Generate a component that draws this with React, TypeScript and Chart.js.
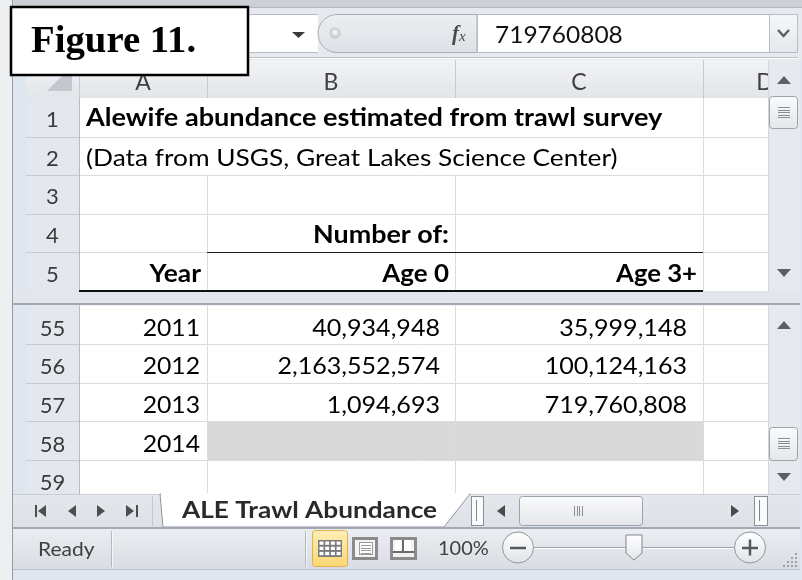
import React, { useEffect, useRef } from "react";
import { Chart, registerables } from "chart.js";

Chart.register(...registerables);

// ---------- content (data) ----------
const figureLabel = "Figure 11.";
const columnLetters = ["A", "B", "C", "D"];
const topRowNumbers = ["1", "2", "3", "4", "5"];
const bottomRowNumbers = ["55", "56", "57", "58", "59"];
const titleText = "Alewife abundance estimated from trawl survey";
const sourceText = "(Data from USGS, Great Lakes Science Center)";
const groupHeader = "Number of:";
const columnHeaders = ["Year", "Age 0", "Age 3+"];
const years = [2011, 2012, 2013, 2014];
const age0: (number | null)[] = [40934948, 2163552574, 1094693, null];
const age3Plus: (number | null)[] = [35999148, 100124163, 719760808, null];
const sheetName = "ALE Trawl Abundance";
const statusText = "Ready";
const zoomText = "100%";
const selectedValue = String(age3Plus[2]);

// ---------- layout (pixel-unit scale space) ----------
const W = 802;
const H = 580;
const colEdges = [26, 79, 207, 455, 703, 768];
const headerTop = 60;
const headerBottom = 98;
const upperStart = 98;
const upperRowH = 38.6;
const lowerStart = 305.5;
const lowerRowH = 38.65;
const paneBottom = 494;

const FONT = "Lato, 'Open Sans', sans-serif";

const fmt = (n: number) => String(n).replace(/\B(?=(\d{3})+(?!\d))/g, ",");

const sheetPlugin = {
  id: "sheetPlugin",
  afterDraw(chart: any) {
    const ctx: CanvasRenderingContext2D = chart.ctx;
    const xs = chart.scales.x;
    const ys = chart.scales.y;
    const X = (v: number) => xs.getPixelForValue(v);
    const Y = (v: number) => ys.getPixelForValue(v);

    const rect = (x0: number, y0: number, x1: number, y1: number, fill: any) => {
      ctx.fillStyle = fill;
      ctx.fillRect(X(x0), Y(y0), X(x1) - X(x0), Y(y1) - Y(y0));
    };
    const vgrad = (y0: number, y1: number, c0: string, c1: string) => {
      const g = ctx.createLinearGradient(0, Y(y0), 0, Y(y1));
      g.addColorStop(0, c0);
      g.addColorStop(1, c1);
      return g;
    };
    const hline = (x0: number, x1: number, y: number, color: string, w = 1) => {
      ctx.strokeStyle = color;
      ctx.lineWidth = w;
      const yy = w % 2 === 1 ? Math.round(Y(y)) + 0.5 : Math.round(Y(y));
      ctx.beginPath();
      ctx.moveTo(X(x0), yy);
      ctx.lineTo(X(x1), yy);
      ctx.stroke();
    };
    const vline = (x: number, y0: number, y1: number, color: string, w = 1) => {
      ctx.strokeStyle = color;
      ctx.lineWidth = w;
      const xx = w % 2 === 1 ? Math.round(X(x)) + 0.5 : Math.round(X(x));
      ctx.beginPath();
      ctx.moveTo(xx, Y(y0));
      ctx.lineTo(xx, Y(y1));
      ctx.stroke();
    };
    const text = (
      s: string,
      x: number,
      y: number,
      font: string,
      color: string,
      align: CanvasTextAlign = "left",
      sx = 1
    ) => {
      ctx.save();
      ctx.font = font;
      ctx.fillStyle = color;
      ctx.textAlign = align;
      ctx.textBaseline = "alphabetic";
      ctx.translate(X(x), Y(y));
      ctx.scale(sx, 1);
      ctx.fillText(s, 0, 0);
      ctx.restore();
    };
    const poly = (pts: number[][], fill: any, stroke?: string, w = 1) => {
      ctx.beginPath();
      pts.forEach((p, i) => (i ? ctx.lineTo(X(p[0]), Y(p[1])) : ctx.moveTo(X(p[0]), Y(p[1]))));
      ctx.closePath();
      if (fill) {
        ctx.fillStyle = fill;
        ctx.fill();
      }
      if (stroke) {
        ctx.strokeStyle = stroke;
        ctx.lineWidth = w;
        ctx.stroke();
      }
    };
    const rrect = (x0: number, y0: number, x1: number, y1: number, r: number, fill: any, stroke?: string) => {
      ctx.beginPath();
      ctx.roundRect(X(x0) + 0.5, Y(y0) + 0.5, X(x1) - X(x0), Y(y1) - Y(y0), r);
      if (fill) {
        ctx.fillStyle = fill;
        ctx.fill();
      }
      if (stroke) {
        ctx.strokeStyle = stroke;
        ctx.lineWidth = 1;
        ctx.stroke();
      }
    };
    const circle = (cx: number, cy: number, r: number, fill: any, stroke?: string) => {
      ctx.beginPath();
      ctx.arc(X(cx), Y(cy), X(cx + r) - X(cx), 0, Math.PI * 2);
      if (fill) {
        ctx.fillStyle = fill;
        ctx.fill();
      }
      if (stroke) {
        ctx.strokeStyle = stroke;
        ctx.lineWidth = 1;
        ctx.stroke();
      }
    };

    ctx.save();

    // ----- window background -----
    rect(0, 0, W, H, "#dfe6ef");
    rect(0, 0, 12, H, "#eeeff1");
    rect(12, 0, W, 7, "#cdd1d7");
    hline(12, W, 7, "#b3b8be");
    rect(12, 8, W, 60, "#e6e9ed");
    vline(12, 0, H, "#979da5");

    // ----- formula bar -----
    rect(13, 14, 318, 53, "#ffffff");
    hline(13, 318, 14, "#b7bdc6");
    hline(13, 318, 52, "#b7bdc6");
    poly([[292, 32], [305, 32], [298.5, 38]], "#3a3a3a");
    ctx.beginPath();
    ctx.moveTo(X(477), Y(14.5));
    ctx.lineTo(X(337), Y(14.5));
    ctx.arc(X(337), Y(33.5), Y(33.5) - Y(14.5), -Math.PI / 2, Math.PI / 2, true);
    ctx.lineTo(X(477), Y(52.5));
    ctx.closePath();
    ctx.fillStyle = vgrad(14, 53, "#eceef1", "#dde1e6");
    ctx.fill();
    ctx.strokeStyle = "#a9b0b9";
    ctx.lineWidth = 1;
    ctx.stroke();
    const dot = ctx.createRadialGradient(X(335), Y(32), 1, X(335), Y(33), 6);
    dot.addColorStop(0, "#f4f4f4");
    dot.addColorStop(1, "#b9bcc0");
    circle(335, 33, 5.5, dot);
    text("f", 452, 40, `italic bold 21px 'Liberation Serif', serif`, "#4a4a4a");
    text("x", 459, 41, `italic 15px 'Liberation Serif', serif`, "#4a4a4a");
    rect(477, 14, 769, 53, "#ffffff");
    ctx.strokeStyle = "#b7bdc6";
    ctx.lineWidth = 1;
    ctx.strokeRect(X(477) + 0.5, Y(14) + 0.5, X(769) - X(477), Y(53) - Y(14) - 1);
    text(selectedValue, 495, 43, `24px ${FONT}`, "#111", "left", 1.02);
    rect(769, 14, 798, 53, vgrad(14, 53, "#f6f7f9", "#e4e7eb"));
    ctx.strokeStyle = "#b7bdc6";
    ctx.strokeRect(X(769) + 0.5, Y(14) + 0.5, X(798) - X(769) - 1, Y(53) - Y(14) - 1);
    ctx.beginPath();
    ctx.moveTo(X(778), Y(30));
    ctx.lineTo(X(783.5), Y(36));
    ctx.lineTo(X(789), Y(30));
    ctx.strokeStyle = "#5d6166";
    ctx.lineWidth = 2.5;
    ctx.stroke();
    hline(13, 798, 57, "#b9bec5");
    hline(13, 798, 58, "#ffffff");

    // ----- column header row -----
    rect(colEdges[0], headerTop, colEdges[5], headerBottom, vgrad(headerTop, headerBottom, "#f2f3f5", "#e2e5e9"));
    hline(colEdges[0], colEdges[5], headerBottom - 0.5, "#b9bec6");
    for (let i = 1; i < 5; i++) vline(colEdges[i], headerTop, headerBottom, "#c6cbd2");
    poly([[47, 91], [72, 91], [72, 66]], "#c3c8cf");
    ctx.save();
    ctx.beginPath();
    ctx.rect(X(colEdges[1]), Y(headerTop), X(colEdges[5]) - X(colEdges[1]), Y(headerBottom) - Y(headerTop));
    ctx.clip();
    columnLetters.forEach((c, i) => {
      const cx = i < 3 ? (colEdges[i + 1] + colEdges[i + 2]) / 2 : colEdges[4] + 62;
      text(c, cx, 90, `23px ${FONT}`, "#3f3f3f", "center");
    });
    ctx.restore();

    // ----- upper pane -----
    rect(colEdges[0], upperStart, colEdges[1], upperStart + 5 * upperRowH, "#e4e8ee");
    rect(colEdges[1], upperStart, colEdges[5], upperStart + 5 * upperRowH, "#ffffff");
    topRowNumbers.forEach((n, i) => {
      const bottom = upperStart + (i + 1) * upperRowH;
      if (i < 4) {
        hline(colEdges[1], colEdges[5], bottom, "#dadcdd");
        hline(colEdges[0], colEdges[1], bottom, "#c6cbd2");
      }
      text(n, (colEdges[0] + colEdges[1]) / 2, bottom - 9.5, `22px ${FONT}`, "#3a3a3a", "center");
    });
    vline(colEdges[2], upperStart + 2 * upperRowH, upperStart + 5 * upperRowH, "#dadcdd");
    vline(colEdges[3], upperStart + 2 * upperRowH, upperStart + 5 * upperRowH, "#dadcdd");
    vline(colEdges[4], upperStart, upperStart + 5 * upperRowH, "#dadcdd");
    const rowBase = (i: number) => upperStart + (i + 1) * upperRowH - 9.5;
    text(titleText, colEdges[1] + 7, rowBase(0) - 1, `bold 24px ${FONT}`, "#000", "left", 1.13);
    text(sourceText, colEdges[1] + 7, rowBase(1), `24px ${FONT}`, "#000", "left", 1.095);
    text(groupHeader, colEdges[3] - 6, rowBase(3), `bold 24px ${FONT}`, "#000", "right", 1.12);
    text(columnHeaders[0], colEdges[2] - 6, rowBase(4), `bold 24px ${FONT}`, "#000", "right", 1.1);
    text(columnHeaders[1], colEdges[3] - 6, rowBase(4), `bold 24px ${FONT}`, "#000", "right", 1.08);
    text(columnHeaders[2], colEdges[4] - 6, rowBase(4), `bold 24px ${FONT}`, "#000", "right", 1.07);
    hline(colEdges[2], colEdges[4], upperStart + 4 * upperRowH, "#1a1a1a", 1);
    vline(colEdges[1], upperStart, paneBottom, "#b6bcc4");

    // ----- split bar -----
    rect(13, 292, 800, lowerStart, "#e3e7ec");
    hline(colEdges[1], colEdges[4], upperStart + 5 * upperRowH, "#111111", 2);
    hline(13, 800, 304, "#a3a9b1", 2);

    // ----- lower pane -----
    rect(colEdges[0], lowerStart, colEdges[1], paneBottom, "#e4e8ee");
    rect(colEdges[1], lowerStart, colEdges[5], paneBottom, "#ffffff");
    rect(colEdges[2], lowerStart + 3 * lowerRowH, colEdges[4], lowerStart + 4 * lowerRowH, "#d9d9d9");
    bottomRowNumbers.forEach((n, i) => {
      const bottom = lowerStart + (i + 1) * lowerRowH;
      hline(colEdges[1], colEdges[5], bottom, "#dadcdd");
      hline(colEdges[0], colEdges[1], bottom, "#c6cbd2");
      text(n, (colEdges[0] + colEdges[1]) / 2, bottom - 8.5, `22px ${FONT}`, "#3a3a3a", "center");
    });
    for (let i = 2; i <= 4; i++) vline(colEdges[i], lowerStart, paneBottom, "#dadcdd");
    vline(colEdges[1], lowerStart, paneBottom, "#b6bcc4");
    years.forEach((yv, i) => {
      const base = lowerStart + (i + 1) * lowerRowH - 8.5;
      text(String(yv), colEdges[2] - 7, base, `24px ${FONT}`, "#000", "right", 1.03);
      const a0 = age0[i];
      const a3 = age3Plus[i];
      if (a0 !== null) text(fmt(a0), colEdges[3] - 15, base, `24px ${FONT}`, "#000", "right", 1.045);
      if (a3 !== null) text(fmt(a3), colEdges[4] - 16, base, `24px ${FONT}`, "#000", "right", 1.045);
    });

    // ----- vertical scrollbars -----
    const vScroll = (y0: number, y1: number, upY: number, thumb0: number, thumb1: number, downY: number) => {
      rect(colEdges[5], y0, 800, y1, "#e6e9ee");
      vline(colEdges[5], y0, y1, "#d3d7dd");
      poly([[777, upY + 4], [791, upY + 4], [784, upY - 4]], "#5b6068");
      poly([[777, downY - 4], [791, downY - 4], [784, downY + 4]], "#5b6068");
      rrect(769, thumb0, 797, thumb1, 3, vgrad(thumb0, thumb1, "#fbfbfc", "#e5e7ea"), "#9ba3ad");
      for (let k = 0; k < 5; k++) hline(778, 790, thumb0 + 11 + k * 2.5, "#8a8f96");
    };
    vScroll(headerTop, 291, 80, 96, 128, 273);
    vScroll(lowerStart, paneBottom, 325, 427, 460, 477);

    // ----- sheet tab bar -----
    rect(13, paneBottom, 800, 528, vgrad(paneBottom, 528, "#e4e8ed", "#dde1e7"));
    hline(13, 800, paneBottom, "#c9ced5");
    const navY = 511;
    const navC = "#4d4d4d";
    vline(36, navY - 6, navY + 6, navC, 2);
    poly([[38, navY], [46, navY - 6], [46, navY + 6]], navC);
    poly([[68, navY], [76, navY - 6], [76, navY + 6]], navC);
    poly([[105, navY], [97, navY - 6], [97, navY + 6]], navC);
    poly([[126, navY - 6], [134, navY], [126, navY + 6]], navC);
    vline(137, navY - 6, navY + 6, navC, 2);
    vline(152, paneBottom + 2, 526, "#c3c8cf");
    poly([[160, paneBottom], [470, paneBottom], [444, 527], [163, 527]], "#ffffff", "#8f969f");
    hline(161, 469, paneBottom, "#ffffff", 2);
    text(sheetName, 182, 518, `bold 23px ${FONT}`, "#2a2a2a", "left", 1.14);
    const handle = (x0: number, x1: number) => {
      rect(x0, 496, x1, 525, "#fbfbfc");
      ctx.strokeStyle = "#8a9099";
      ctx.lineWidth = 1;
      ctx.strokeRect(X(x0) + 0.5, Y(496) + 0.5, X(x1) - X(x0), Y(525) - Y(496));
      vline(x0 + 5, 500, 521, "#7e848c");
    };
    handle(471, 483);
    poly([[497, navY], [505, navY - 6], [505, navY + 6]], "#4a4a4a");
    poly([[731, navY - 6], [739, navY], [731, navY + 6]], "#4a4a4a");
    rrect(519, 496, 642, 525, 3, vgrad(496, 525, "#fbfbfc", "#e4e6e9"), "#9ba3ad");
    for (let k = 0; k < 4; k++) vline(574 + k * 2.6, 506, 516, "#8a8f96");
    handle(754, 767);
    hline(13, 800, 528, "#a3a9b1", 2);

    // ----- status bar -----
    rect(13, 529, 800, 569, vgrad(529, 569, "#eaedf1", "#d9dde3"));
    hline(13, 800, 569, "#b9bfc7");
    text(statusText, 38, 556, `20px ${FONT}`, "#404040", "left", 1.05);
    vline(111, 531, 567, "#b4bac2");
    vline(112, 531, 567, "#f5f6f8");
    vline(305, 531, 567, "#b4bac2");
    vline(306, 531, 567, "#f5f6f8");
    rrect(312, 530, 347, 566, 3, vgrad(530, 566, "#fdeeb8", "#fbd874"), "#e1b04e");
    rect(318, 540, 342, 557, "#7b7b7b");
    for (let r = 0; r < 3; r++)
      for (let c = 0; c < 4; c++) rect(319.5 + c * 5.7, 541.5 + r * 5.2, 323.5 + c * 5.7, 544.8 + r * 5.2, "#ffffff");
    rect(352, 537, 378, 560, "#8b8b8b");
    rect(355, 540, 375, 557, "#f4f4f4");
    rect(359, 542, 373, 555, "#ffffff");
    ctx.strokeStyle = "#9a9a9a";
    ctx.lineWidth = 1;
    ctx.strokeRect(X(359) + 0.5, Y(542) + 0.5, 13, 12);
    for (let k = 0; k < 4; k++) hline(361, 371, 545 + k * 2.6, "#9a9a9a");
    rect(390, 537, 417, 560, "#8b8b8b");
    rect(393, 540, 414, 557, "#f2f2f2");
    rect(395, 540, 401, 551, "#ffffff");
    rect(404, 540, 411, 551, "#ffffff");
    vline(402.5, 540, 552, "#6b6b6b", 2);
    hline(393, 414, 552, "#6b6b6b", 2);
    text(zoomText, 438, 555, `20px ${FONT}`, "#404040");
    hline(533, 735, 547, "#9aa1aa");
    hline(533, 735, 548, "#ffffff");
    const btn = vgrad(532, 563, "#ffffff", "#e1e4e8");
    circle(518, 547.5, 15.5, btn, "#8f969f");
    hline(510, 526, 547.5, "#55595f", 2.5);
    circle(750, 547.5, 15.5, btn, "#8f969f");
    hline(742, 758, 547.5, "#55595f", 2.5);
    vline(750, 539.5, 555.5, "#55595f", 2.5);
    poly([[626, 535], [642, 535], [642, 553], [634, 560], [626, 553]], vgrad(535, 560, "#ffffff", "#e3e6ea"), "#7f8790");
    for (let r = 0; r < 4; r++)
      for (let c = 0; c <= r; c++) rect(795 - c * 4, 553 + r * 4, 797 - c * 4, 555 + r * 4, "#9aa0a8");

    // ----- figure label box -----
    rect(10, 6, 249, 76, "#ffffff");
    ctx.strokeStyle = "#000";
    ctx.lineWidth = 2.5;
    ctx.strokeRect(X(11), Y(7), X(248) - X(11), Y(75) - Y(7));
    text(figureLabel, 31, 52, `bold 38px 'Liberation Serif', 'Times New Roman', serif`, "#000", "left", 1.02);

    ctx.restore();
  },
};

export default function App() {
  const canvasRef = useRef<HTMLCanvasElement | null>(null);

  useEffect(() => {
    document.body.style.margin = "0";
    const canvas = canvasRef.current;
    if (!canvas) return;
    const chart = new Chart(canvas, {
      type: "scatter",
      data: { datasets: [] },
      options: {
        animation: false,
        responsive: false,
        maintainAspectRatio: false,
        devicePixelRatio: 1,
        events: [],
        layout: { padding: 0 },
        plugins: { legend: { display: false }, tooltip: { enabled: false }, title: { display: false } },
        scales: {
          x: { type: "linear", min: 0, max: W, display: false },
          y: { type: "linear", min: 0, max: H, reverse: true, display: false },
        },
      },
      plugins: [sheetPlugin],
    });
    const fonts = (document as any).fonts;
    if (fonts && fonts.load) {
      Promise.all([
        fonts.load(`24px Lato`),
        fonts.load(`bold 24px Lato`),
        fonts.load(`bold 38px 'Liberation Serif'`),
        fonts.load(`italic 20px 'Liberation Serif'`),
      ])
        .then(() => chart.render())
        .catch(() => {});
    }
    return () => chart.destroy();
  }, []);

  return (
    <div style={{ width: W, height: H }}>
      <canvas ref={canvasRef} width={W} height={H} style={{ display: "block", width: W, height: H }} />
    </div>
  );
}
